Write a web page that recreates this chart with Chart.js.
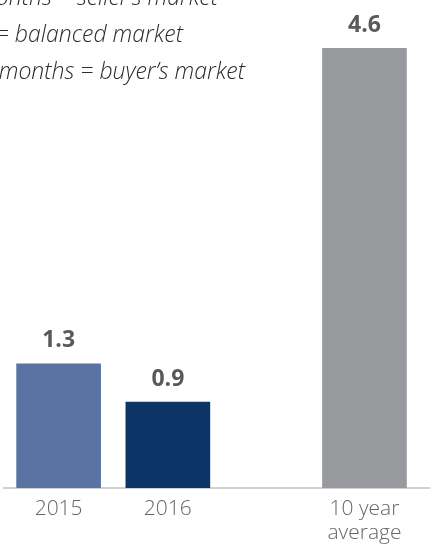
<!DOCTYPE html>
<html>
<head>
<meta charset="utf-8">
<script src="https://cdn.jsdelivr.net/npm/chart.js@4"></script>
<style>
  body { margin: 0; background: #fff; }
  #wrap { width: 430px; height: 548px; position: relative; }
</style>
</head>
<body>
<div id="wrap"><canvas id="invChart"></canvas></div>
<script>
const categories = ["2015", "2016", ["10 year", "average"]];
const monthsSupply = [1.3, 0.9, 4.6];
const barColors = ["#5a73a3", "#0a3566", "#999a9e"];
const noteLines = [
  "0–4 months = seller’s market",
  "5–6 months = balanced market",
  "7+ months = buyer’s market"
];

// the average bar sits a bit further out than the two years
const slots = categories.map((c, i) => (i < 2 ? i : i + 0.8));

// value labels over the bars
const valueLabels = {
  id: "valueLabels",
  afterDatasetsDraw(chart) {
    const ctx = chart.ctx;
    const meta = chart.getDatasetMeta(0);
    ctx.save();
    ctx.font = "bold 23px 'Open Sans'";
    ctx.fillStyle = "#595959";
    ctx.textAlign = "center";
    ctx.textBaseline = "middle";
    meta.data.forEach((bar, i) => {
      ctx.fillText(monthsSupply[i].toFixed(1), bar.x, bar.y - 23);
    });
    ctx.restore();
  }
};

// italic note in the top left, cut off by the edge like the original
const noteText = {
  id: "noteText",
  afterDraw(chart) {
    const ctx = chart.ctx;
    const ends = [218, 183, 245];
    ctx.save();
    ctx.font = "italic 300 23px 'Open Sans'";
    ctx.fillStyle = "#2b2b2b";
    ctx.textAlign = "right";
    ctx.textBaseline = "alphabetic";
    noteLines.forEach((line, i) => {
      ctx.fillText(line, ends[i], 5 + i * 37);
    });
    ctx.restore();
  }
};

const ctx = document.getElementById("invChart").getContext("2d");

const invChart = new Chart(ctx, {
  type: "bar",
  data: {
    datasets: [{
      data: monthsSupply.map((v, i) => ({ x: slots[i], y: v })),
      backgroundColor: barColors,
      barThickness: 84,
      borderWidth: 0
    }]
  },
  options: {
    responsive: true,
    maintainAspectRatio: false,
    animation: false,
    layout: { padding: { top: 10, left: 4, right: 0, bottom: 0 } },
    plugins: {
      legend: { display: false },
      tooltip: { enabled: false }
    },
    scales: {
      x: {
        type: "linear",
        min: -0.5,
        max: 3.4,
        offset: false,
        grid: { display: false, drawTicks: false },
        border: { display: true, color: "#d0d0d0", width: 2 },
        afterBuildTicks: (axis) => {
          axis.ticks = slots.map(v => ({ value: v }));
        },
        afterFit: (axis) => {
          axis.height = 60;
        },
        ticks: {
          autoSkip: false,
          maxRotation: 0,
          padding: 9,
          color: "#666",
          font: { family: "'Open Sans'", size: 21, weight: "300", lineHeight: 1.15 },
          callback: (value, index) => categories[index]
        }
      },
      y: {
        display: false,
        min: 0,
        max: 5
      }
    }
  },
  plugins: [valueLabels, noteText]
});
</script>
</body>
</html>
